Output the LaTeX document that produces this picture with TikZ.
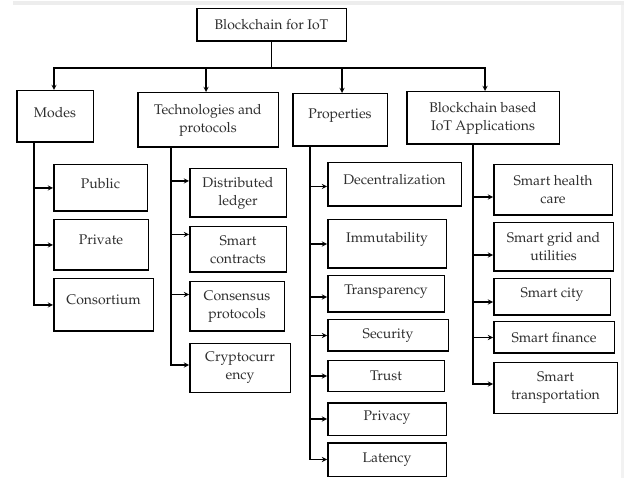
\documentclass[tikz,border=0pt]{standalone}
\usepackage[T1]{fontenc}
\usepackage{mathpazo}
\usepackage{xcolor}
\usepackage{tikz}
\usetikzlibrary{positioning}

\begin{document}
\begin{tikzpicture}[x=1pt, y=1pt, auto,
    every node/.style={font=\fontsize{14}{18}\selectfont, text=black!82},
    block/.style={rectangle, draw=black, line width=1.5pt, align=center, inner sep=2pt},
    item/.style={block, anchor=north west},
    raised/.style={text depth=#1},
    arrow/.style={->, >=stealth, line width=1.3pt}]

    % page and faint scan edges
    \useasboundingbox (0,0) rectangle (624,-478);
    \fill[black!7] (13,-1) rectangle (624,-5);
    \fill[black!5] (621,-5) rectangle (624,-478);

    \node[block, minimum width=149.5pt, minimum height=32.5pt] (root) at (271.5,-25) {Blockchain for IoT};

    \node[block, raised=9pt, minimum width=76.5pt, minimum height=51.5pt] (modes) at (55,-116.5) {Modes};
    \node[block, minimum width=140.5pt, minimum height=54.5pt] (tech) at (208,-120) {Technologies and\\protocols};
    \node[block, raised=13pt, minimum width=94.5pt, minimum height=52.5pt] (props) at (340,-120) {Properties};
    \node[block, minimum width=152.5pt, minimum height=52.5pt] (apps) at (483,-118) {Blockchain based\\IoT Applications};

    % modes
    \node[item, raised=10pt, minimum width=93.5pt, minimum height=46.5pt] (public) at (53,-164) {Public};
    \node[item, raised=10pt, below=7pt of public.south west, anchor=north west, minimum width=94.5pt, minimum height=50.5pt] (private) {Private};
    \node[item, raised=10pt, below=7pt of private.south west, anchor=north west, minimum width=99.5pt, minimum height=52.5pt] (consort) {Consortium};

    % technologies
    \node[item, minimum width=96.5pt, minimum height=48.5pt] (ledger) at (189,-168) {Distributed\\ledger};
    \node[item, below=8pt of ledger.south west, anchor=north west, minimum width=96.5pt, minimum height=45.5pt] (contracts) {Smart\\contracts};
    \node[item, below=8pt of contracts.south west, anchor=north west, minimum width=94.5pt, minimum height=49.5pt] (consensus) {Consensus\\protocols};
    \node[item, below=11pt of consensus.south west, anchor=north west, minimum width=100.5pt, minimum height=48.5pt] (crypto) {Cryptocurr\\ency};

    % properties
    \node[item, raised=10pt, minimum width=133.5pt, minimum height=43.5pt] (decent) at (327,-162) {Decentralization};
    \node[item, raised=13pt, below=12pt of decent.south west, anchor=north west, minimum width=118.5pt, minimum height=48.5pt] (immut) {Immutability};
    \node[item, raised=9pt, below=6pt of immut.south west, anchor=north west, minimum width=116.5pt, minimum height=36.5pt] (transp) {Transparency};
    \node[item, below=6pt of transp.south west, anchor=north west, minimum width=120.5pt, minimum height=31.5pt] (security) {Security};
    \node[item, below=8pt of security.south west, anchor=north west, minimum width=116.5pt, minimum height=30.5pt] (trust) {Trust};
    \node[item, raised=7pt, below=10pt of trust.south west, anchor=north west, minimum width=118.5pt, minimum height=32.5pt] (privacy) {Privacy};
    \node[item, below=6pt of privacy.south west, anchor=north west, minimum width=118.5pt, minimum height=33.5pt] (latency) {Latency};

    % applications
    \node[item, minimum width=118.5pt, minimum height=50.5pt] (health) at (493,-164) {Smart health\\care};
    \node[item, below=6pt of health.south west, anchor=north west, minimum width=119.5pt, minimum height=48.5pt] (grid) {Smart grid and\\utilities};
    \node[item, raised=9pt, below=6pt of grid.south west, anchor=north west, minimum width=116.5pt, minimum height=36.5pt] (city) {Smart city};
    \node[item, below=5pt of city.south west, anchor=north west, minimum width=120.5pt, minimum height=31.5pt] (finance) {Smart finance};
    \node[item, below=8pt of finance.south west, anchor=north west, minimum width=123.5pt, minimum height=50.5pt] (transport) {Smart\\transportation};

    % top level
    \draw[arrow] (root.south) -- ++(0,-26) -| ([xshift=-1pt]modes.north);
    \draw[arrow] (root.south) -- ++(0,-26) -| ([xshift=-2pt]tech.north);
    \draw[arrow] (root.south) -- ++(0,-26) -| ([xshift=2pt]props.north);
    \draw[arrow] (root.south) -- ++(0,-26) -| ([xshift=2pt]apps.north);

    \draw[arrow] ([xshift=-21pt]modes.south) |- (public.west);
    \draw[arrow] ([xshift=-21pt]modes.south) |- (private.west);
    \draw[arrow] ([xshift=-21pt]modes.south) |- (consort.west);

    \draw[arrow] ([xshift=-37pt]tech.south) |- ([yshift=12pt]ledger.west);
    \draw[arrow] ([xshift=-37pt]tech.south) |- ([yshift=15pt]contracts.west);
    \draw[arrow] ([xshift=-37pt]tech.south) |- ([yshift=12pt]consensus.west);
    \draw[arrow] ([xshift=-37pt]tech.south) |- ([yshift=3pt]crypto.west);

    \draw[arrow] ([xshift=-30pt]props.south) |- ([yshift=-2pt]decent.west);
    \draw[arrow] ([xshift=-30pt]props.south) |- (immut.west);
    \draw[arrow] ([xshift=-30pt]props.south) |- ([yshift=-3pt]transp.west);
    \draw[arrow] ([xshift=-30pt]props.south) |- (security.west);
    \draw[arrow] ([xshift=-30pt]props.south) |- (trust.west);
    \draw[arrow] ([xshift=-30pt]props.south) |- (privacy.west);
    \draw[arrow] ([xshift=-30pt]props.south) |- (latency.west);

    \draw[arrow] ([xshift=-10pt]apps.south) |- ([yshift=-7pt]health.west);
    \draw[arrow] ([xshift=-10pt]apps.south) |- ([yshift=-8pt]grid.west);
    \draw[arrow] ([xshift=-10pt]apps.south) |- ([yshift=-5pt]city.west);
    \draw[arrow] ([xshift=-10pt]apps.south) |- (finance.west);
    \draw[arrow] ([xshift=-10pt]apps.south) |- ([yshift=4pt]transport.west);
\end{tikzpicture}
\end{document}
